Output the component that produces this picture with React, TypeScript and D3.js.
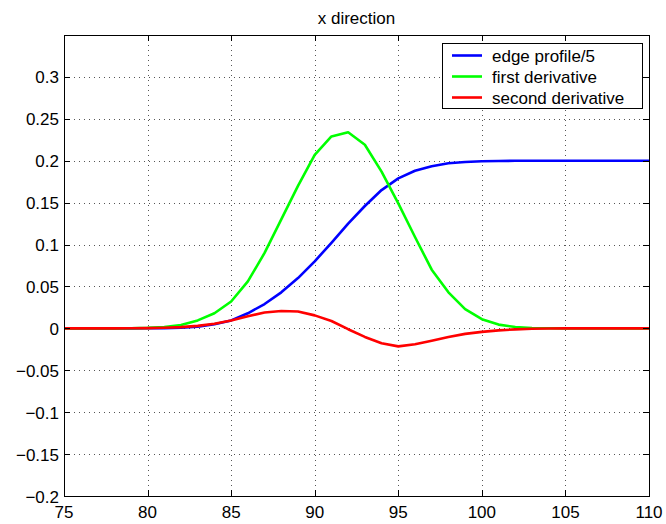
import { useEffect, useRef } from 'react';
import * as d3 from 'd3';

// sample positions (pixel index along the x direction)
const xValues = d3.range(75, 111);

const edgeProfile = [
  0, 0, 0, 0, 0, 0.0001, 0.0003, 0.0009, 0.0021, 0.005, 0.0095, 0.018, 0.029,
  0.043, 0.06, 0.08, 0.102, 0.125, 0.146, 0.165, 0.179, 0.188, 0.1935, 0.197,
  0.1985, 0.1993, 0.1997, 0.1999, 0.2, 0.2, 0.2, 0.2, 0.2, 0.2, 0.2, 0.2,
];

const firstDerivative = [
  0, 0, 0, 0, 0.0002, 0.0006, 0.0015, 0.004, 0.0095, 0.018, 0.032, 0.056, 0.09,
  0.13, 0.17, 0.207, 0.229, 0.234, 0.219, 0.187, 0.149, 0.109, 0.07, 0.043,
  0.023, 0.011, 0.0045, 0.0016, 0.0005, 0.0001, 0, 0, 0, 0, 0, 0,
];

const secondDerivative = [
  0, 0, 0, 0, 0.0001, 0.0003, 0.0007, 0.0015, 0.003, 0.0055, 0.0095, 0.0145,
  0.019, 0.0208, 0.0202, 0.0155, 0.0088, -0.001, -0.0102, -0.0178, -0.0215,
  -0.019, -0.0148, -0.0102, -0.0066, -0.0042, -0.0024, -0.0012, -0.0005,
  -0.0002, 0, 0, 0, 0, 0, 0,
];

const seriesNames = ['edge profile/5', 'first derivative', 'second derivative'];
const seriesColors = ['#0000ff', '#00ff00', '#ff0000'];

const xTicks = [75, 80, 85, 90, 95, 100, 105, 110];
const yTicks = [-0.2, -0.15, -0.1, -0.05, 0, 0.05, 0.1, 0.15, 0.2, 0.25, 0.3];
const yTickLabels = ['\u22120.2', '\u22120.15', '\u22120.1', '\u22120.05', '0', '0.05', '0.1', '0.15', '0.2', '0.25', '0.3'];

const title = 'x direction';

const App = () => {
  const svgRef = useRef<SVGSVGElement>(null);

  useEffect(() => {
    const width = 666;
    const height = 524;
    const margin = { top: 35, right: 17, bottom: 28, left: 64 };
    const font = '"Liberation Sans", Arial, Helvetica, sans-serif';

    const svg = d3.select(svgRef.current)
      .attr('width', width)
      .attr('height', height);
    svg.selectAll('*').remove();

    const xScale = d3.scaleLinear()
      .domain([75, 110])
      .range([margin.left, width - margin.right]);
    const yScale = d3.scaleLinear()
      .domain([-0.2, 0.35])
      .range([height - margin.bottom, margin.top]);

    const x0 = xScale.range()[0];
    const x1 = xScale.range()[1];
    const y0 = yScale.range()[0];
    const y1 = yScale.range()[1];

    svg.append('rect')
      .attr('width', width).attr('height', height).attr('fill', '#fff');

    // dotted grid
    const grid = svg.append('g')
      .attr('stroke', '#555')
      .attr('stroke-width', 1)
      .attr('stroke-dasharray', '1,4');
    grid.selectAll('line.gx')
      .data(xTicks.slice(1, -1))
      .enter().append('line')
      .attr('x1', d => Math.round(xScale(d)) + 0.5)
      .attr('x2', d => Math.round(xScale(d)) + 0.5)
      .attr('y1', y0).attr('y2', y1);
    grid.selectAll('line.gy')
      .data(yTicks.slice(1))
      .enter().append('line')
      .attr('y1', d => Math.round(yScale(d)) + 0.5)
      .attr('y2', d => Math.round(yScale(d)) + 0.5)
      .attr('x1', x0).attr('x2', x1);

    // data lines
    const series = [edgeProfile, firstDerivative, secondDerivative];
    const line = d3.line<number>()
      .x((_, i) => xScale(xValues[i]))
      .y(d => yScale(d));
    series.forEach((values, i) => {
      svg.append('path')
        .datum(values)
        .attr('d', line)
        .attr('fill', 'none')
        .attr('stroke', seriesColors[i])
        .attr('stroke-width', 2.6)
        .attr('stroke-linejoin', 'round');
    });

    // axes box with inward ticks on all sides
    const frame = svg.append('g').attr('stroke', '#000').attr('stroke-width', 1);
    frame.append('rect')
      .attr('x', x0 + 0.5).attr('y', y1 + 0.5)
      .attr('width', x1 - x0).attr('height', y0 - y1)
      .attr('fill', 'none');
    const tickLen = 6;
    xTicks.forEach(t => {
      const x = Math.round(xScale(t)) + 0.5;
      frame.append('line').attr('x1', x).attr('x2', x).attr('y1', y0).attr('y2', y0 - tickLen);
      frame.append('line').attr('x1', x).attr('x2', x).attr('y1', y1).attr('y2', y1 + tickLen);
    });
    yTicks.forEach(t => {
      const y = Math.round(yScale(t)) + 0.5;
      frame.append('line').attr('y1', y).attr('y2', y).attr('x1', x0).attr('x2', x0 + tickLen);
      frame.append('line').attr('y1', y).attr('y2', y).attr('x1', x1).attr('x2', x1 - tickLen);
    });

    // tick labels
    svg.append('g')
      .selectAll('text')
      .data(xTicks)
      .enter().append('text')
      .attr('x', d => xScale(d))
      .attr('y', y0 + 22)
      .attr('text-anchor', 'middle')
      .attr('font-family', font)
      .attr('font-size', 17)
      .text(d => String(d));
    svg.append('g')
      .selectAll('text')
      .data(yTicks)
      .enter().append('text')
      .attr('x', x0 - 5)
      .attr('y', d => yScale(d) + 6.5)
      .attr('text-anchor', 'end')
      .attr('font-family', font)
      .attr('font-size', 17)
      .text((_, i) => yTickLabels[i]);

    // title
    svg.append('text')
      .attr('x', (x0 + x1) / 2)
      .attr('y', 24)
      .attr('text-anchor', 'middle')
      .attr('font-family', font)
      .attr('font-size', 17)
      .text(title);

    // legend
    const legend = svg.append('g');
    legend.append('rect')
      .attr('x', 442.5).attr('y', 43.5)
      .attr('width', 200).attr('height', 65)
      .attr('fill', '#fff')
      .attr('stroke', '#000');
    seriesNames.forEach((name, i) => {
      const y = 55.5 + i * 21;
      legend.append('line')
        .attr('x1', 452).attr('x2', 482)
        .attr('y1', y).attr('y2', y)
        .attr('stroke', seriesColors[i])
        .attr('stroke-width', 2.6);
      legend.append('text')
        .attr('x', 492)
        .attr('y', y + 6)
        .attr('font-family', font)
        .attr('font-size', 17)
        .text(name);
    });
  }, []);

  return <svg ref={svgRef} style={{ position: 'absolute', left: 0, top: 0 }}></svg>;
};

export default App;
